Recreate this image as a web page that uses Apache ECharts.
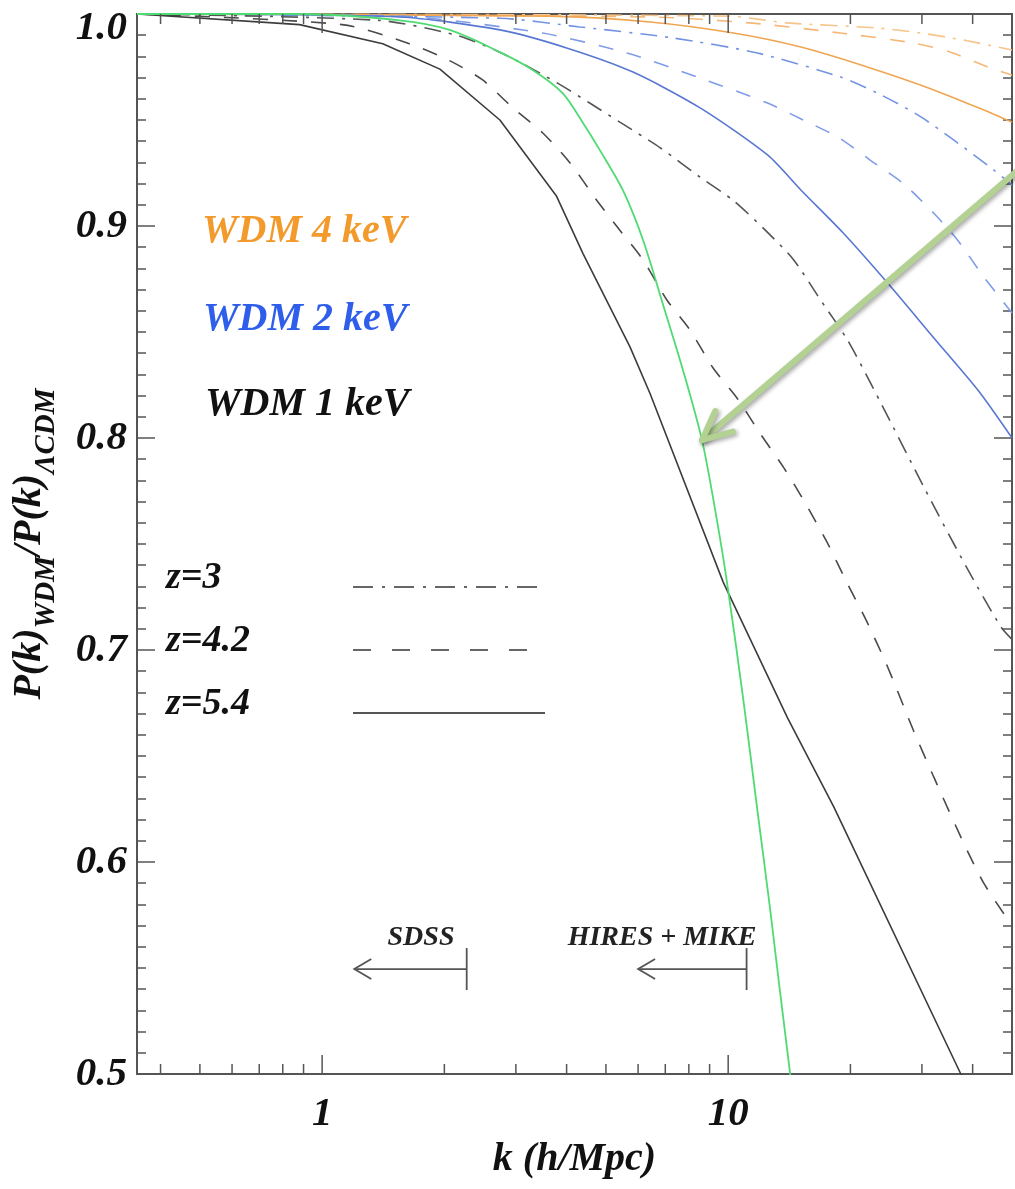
<!DOCTYPE html>
<html>
<head>
<meta charset="utf-8">
<script src="https://cdn.jsdelivr.net/npm/echarts@6/dist/echarts.min.js"></script>
<style>
html,body{margin:0;padding:0;background:#fff;}
#c{width:1015px;height:1189px;}
</style>
</head>
<body>
<div id="c"></div>
<script>
// ---- axes ----
const kMin = 0.35, kMax = 50;
const yMin = 0.5, yMax = 1.0, yStep = 0.1;
const xMajorTicks = [1, 10];
const xMinorTicks = [0.4,0.5,0.6,0.7,0.8,0.9,2,3,4,5,6,7,8,9,20,30,40];
const yTickLabels = ['0.5','0.6','0.7','0.8','0.9','1.0'];

// ---- WDM 1 keV ----
const w1z54_k = [0.35,0.88,1.41,1.95,2.74,3.78,4.39,5.73,6.42,9.72,14.0,18.2,37.4,50];
const w1z54_v = [1.0,0.995,0.986,0.974,0.950,0.914,0.887,0.843,0.821,0.732,0.668,0.626,0.500,0.447];
const w1z42_k = [0.35,1.12,1.64,2.06,2.48,2.94,3.49,4.07,4.75,5.41,6.17,7.07,8.05,9.18,10.5,12.0,13.7,15.3,17.5,19.7,22.0,24.7,28.6,32.1,38.0,42.6,50];
const w1z42_v = [1.0,0.995,0.986,0.978,0.969,0.956,0.944,0.930,0.912,0.898,0.884,0.865,0.851,0.833,0.819,0.802,0.786,0.771,0.751,0.731,0.713,0.692,0.662,0.640,0.609,0.590,0.570];
const w1z3_k = [0.35,1.38,2.14,2.74,3.30,3.91,4.56,5.41,6.79,8.53,10.3,12.5,14.5,16.9,19.7,23.7,30.3,38.9,46.9,50];
const w1z3_v = [1.0,0.997,0.990,0.982,0.974,0.966,0.958,0.949,0.937,0.923,0.912,0.897,0.884,0.865,0.846,0.817,0.777,0.738,0.711,0.705];

// ---- WDM 2 keV ----
const w2z54_k = [0.35,1.55,2.74,4.0,5.83,8.53,12.5,15.1,19.2,24.7,32.1,41.2,50];
const w2z54_v = [1.0,0.9986,0.9925,0.984,0.9726,0.9557,0.9335,0.917,0.8967,0.8731,0.8472,0.8226,0.800];
const w2z42_k = [0.35,1.55,3.49,5.63,8.38,12.5,15.3,18.6,22.4,27.0,32.1,36.7,42.6,50];
const w2z42_v = [1.0,0.999,0.991,0.9816,0.9703,0.958,0.950,0.942,0.931,0.920,0.906,0.8934,0.876,0.859];
const w2z3_k = [0.35,2.74,4.31,7.31,11.8,18.9,23.3,29.3,35.9,45.1,50];
const w2z3_v = [1.0,0.998,0.9939,0.9887,0.9816,0.9703,0.9627,0.9524,0.9406,0.9264,0.9193];

// ---- WDM 4 keV ----
const w4z54_k = [0.35,3.63,6.42,10.3,15.1,22.0,32.1,42.6,50];
const w4z54_v = [1.0,0.999,0.9962,0.991,0.9844,0.975,0.9642,0.9547,0.949];
const w4z42_k = [0.35,6.42,11.3,18.9,28.6,35.3,43.6,50];
const w4z42_v = [1.0,0.9986,0.9958,0.991,0.9863,0.982,0.975,0.9712];
const w4z3_k = [0.35,10.0,14.0,23.3,29.8,38.0,50];
const w4z3_v = [1.0,0.999,0.9958,0.9934,0.991,0.9877,0.983];

// ---- green curve ----
const green_k = [0.35,0.88,1.55,2.06,2.74,3.30,3.91,4.39,4.83,5.50,6.17,6.91,7.74,8.62,9.29,9.94,10.9,11.8,12.7,14.2,15.5];
const green_v = [1.0,1.0,0.997,0.9925,0.982,0.9736,0.9627,0.9486,0.9358,0.917,0.8934,0.863,0.832,0.799,0.766,0.7316,0.6764,0.6245,0.577,0.5005,0.45];

// ---- annotations (data coords) ----
const limitNames = ['SDSS','HIRES + MIKE'];
const limitK = [2.27, 11.1];
const limitTailK = [1.2, 6.0];
const limitY = [0.5495, 0.5495];
const arrowTip = [8.62, 0.799];
const arrowTail = [51.5, 0.926];

const pairs = (k, v) => k.map((x, i) => [x, v[i]]);
const FONT = '"Liberation Serif","DejaVu Serif",serif';
const DASH = [15, 14];
const DASHDOT = [17, 8, 3, 8];

function lineSeries(name, k, v, color, type, width, smooth) {
  return {
    name, type: 'line', xAxisIndex: 0, yAxisIndex: 0,
    data: pairs(k, v), showSymbol: false, symbol: 'none', silent: true,
    clip: true, smooth: smooth === undefined ? 0.25 : smooth,
    lineStyle: { color, width: width || 1.6, type: type || 'solid' },
    z: 3
  };
}

const AX = '#555';
const option = {
  animation: false,
  backgroundColor: '#ffffff',
  grid: { left: 137, right: 3, top: 14, bottom: 115, containLabel: false },
  xAxis: [
    {
      type: 'log', logBase: 10, min: kMin, max: kMax, position: 'bottom',
      axisLine: { show: true, onZero: false, lineStyle: { color: AX, width: 2 } },
      axisTick: { show: false }, splitLine: { show: false }, minorTick: { show: false },
      axisLabel: {
        margin: 20, color: '#111', fontFamily: FONT, fontSize: 41, fontWeight: 'bold', fontStyle: 'italic',
        formatter: function (v) {
          for (const t of xMajorTicks) { if (Math.abs(v - t) / t < 1e-6) return String(t); }
          return '';
        }
      },
      name: 'k (h/Mpc)', nameLocation: 'middle', nameGap: 66,
      nameTextStyle: { color: '#111', fontFamily: FONT, fontSize: 40, fontWeight: 'bold', fontStyle: 'italic' }
    },
    {
      type: 'log', logBase: 10, min: kMin, max: kMax, position: 'top',
      axisLine: { show: true, onZero: false, lineStyle: { color: AX, width: 2 } },
      axisTick: { show: false }, axisLabel: { show: false }, splitLine: { show: false }
    }
  ],
  yAxis: [
    {
      type: 'value', min: yMin, max: yMax, interval: yStep, position: 'left',
      axisLine: { show: true, onZero: false, lineStyle: { color: AX, width: 2 } },
      axisTick: { show: true, inside: true, length: 18, lineStyle: { color: AX, width: 1.5 } },
      minorTick: { show: true, splitNumber: 10, length: 9, lineStyle: { color: AX, width: 1.5 } },
      splitLine: { show: false }, minorSplitLine: { show: false },
      axisLabel: {
        margin: 10, color: '#111', fontFamily: FONT, fontSize: 41, fontWeight: 'bold', fontStyle: 'italic',
        formatter: function (v) {
          const i = Math.round((v - yMin) / yStep);
          const s = yTickLabels[i];
          return i === yTickLabels.length - 1 ? '{t|' + s + '}' : s;
        },
        rich: { t: { fontFamily: FONT, fontSize: 41, fontWeight: 'bold', fontStyle: 'italic', color: '#111', padding: [28, 0, 0, 0] } }
      }
    },
    {
      type: 'value', min: yMin, max: yMax, interval: yStep, position: 'right',
      axisLine: { show: true, onZero: false, lineStyle: { color: AX, width: 2 } },
      axisTick: { show: true, inside: true, length: 18, lineStyle: { color: AX, width: 1.5 } },
      minorTick: { show: true, splitNumber: 10, length: 9, lineStyle: { color: AX, width: 1.5 } },
      splitLine: { show: false }, axisLabel: { show: false }
    }
  ],
  series: [
    lineSeries('4keV z3', w4z3_k, w4z3_v, '#F7C48A', DASHDOT),
    lineSeries('4keV z4.2', w4z42_k, w4z42_v, '#F5B877', DASH),
    lineSeries('4keV z5.4', w4z54_k, w4z54_v, '#EFA552', 'solid'),
    lineSeries('2keV z3', w2z3_k, w2z3_v, '#7393E2', DASHDOT),
    lineSeries('2keV z4.2', w2z42_k, w2z42_v, '#7F9DE6', DASH),
    lineSeries('2keV z5.4', w2z54_k, w2z54_v, '#5877D2', 'solid'),
    lineSeries('1keV z3', w1z3_k, w1z3_v, '#555555', DASHDOT),
    lineSeries('1keV z4.2', w1z42_k, w1z42_v, '#4a4a4a', DASH),
    lineSeries('1keV z5.4', w1z54_k, w1z54_v, '#3c3c3c', 'solid', 1.6, false),
    lineSeries('green', green_k, green_v, '#4EDB72', 'solid', 1.8, 0.3),
    {
      // minor + major ticks on bottom and top log axes
      type: 'custom', xAxisIndex: 0, yAxisIndex: 0, silent: true, clip: false, z: 5,
      data: xMajorTicks.map(k => [k, 1]).concat(xMinorTicks.map(k => [k, 0])),
      renderItem: function (params, api) {
        const k = api.value(0), major = api.value(1) === 1;
        const len = major ? 19 : 10;
        const pb = api.coord([k, yMin]), pt = api.coord([k, yMax]);
        const st = { stroke: AX, lineWidth: 1.5 };
        return { type: 'group', children: [
          { type: 'line', shape: { x1: pb[0], y1: pb[1], x2: pb[0], y2: pb[1] - len }, style: st },
          { type: 'line', shape: { x1: pt[0], y1: pt[1], x2: pt[0], y2: pt[1] + len }, style: st }
        ]};
      }
    },
    {
      // SDSS / HIRES limits arrows
      type: 'custom', xAxisIndex: 0, yAxisIndex: 0, silent: true, clip: false, z: 6,
      encode: { x: [0, 1], y: 2 },
      data: limitK.map((k, i) => [limitTailK[i], k, limitY[i]]),
      renderItem: function (params, api) {
        const a = api.coord([api.value(0), api.value(2)]);
        const b = api.coord([api.value(1), api.value(2)]);
        const st = { stroke: '#555', lineWidth: 1.8, fill: 'none' };
        return { type: 'group', children: [
          { type: 'line', shape: { x1: a[0], y1: a[1], x2: b[0], y2: b[1] }, style: st },
          { type: 'line', shape: { x1: b[0], y1: b[1] - 21, x2: b[0], y2: b[1] + 21 }, style: st },
          { type: 'polyline', shape: { points: [[a[0] + 17, a[1] - 10], [a[0], a[1]], [a[0] + 17, a[1] + 10]] }, style: st }
        ]};
      }
    },
    {
      // green pointer arrow
      type: 'custom', xAxisIndex: 0, yAxisIndex: 0, silent: true, clip: false, z: 7,
      encode: { x: [0, 2], y: [1, 3] },
      data: [[arrowTip[0], arrowTip[1], arrowTail[0], arrowTail[1]]],
      renderItem: function (params, api) {
        const tip = api.coord([api.value(0), api.value(1)]);
        const tail = api.coord([api.value(2), api.value(3)]);
        const dx = tail[0] - tip[0], dy = tail[1] - tip[1];
        const L = Math.hypot(dx, dy), ux = dx / L, uy = dy / L;
        const th = 25 * Math.PI / 180, al = 32;
        const r = (s) => [tip[0] + al * (ux * Math.cos(s * th) - uy * Math.sin(s * th)),
                          tip[1] + al * (ux * Math.sin(s * th) + uy * Math.cos(s * th))];
        const st = { stroke: '#B3D193', lineWidth: 6, lineCap: 'round', lineJoin: 'round', fill: 'none',
                     shadowBlur: 4, shadowColor: 'rgba(0,0,0,0.35)', shadowOffsetX: 2, shadowOffsetY: 2 };
        return { type: 'group', children: [
          { type: 'line', shape: { x1: tail[0], y1: tail[1], x2: tip[0], y2: tip[1] }, style: st },
          { type: 'polyline', shape: { points: [r(1), tip, r(-1)] }, style: st }
        ]};
      }
    }
  ],
  graphic: [
    { type: 'text', x: 32, y: 544, rotation: Math.PI / 2, silent: true,
      style: { text: '{m|P(k)}{s|WDM}{m|/P(k)}{s|ΛCDM}', align: 'center', verticalAlign: 'middle', fill: '#111',
        rich: {
          m: { fontFamily: FONT, fontSize: 40, fontWeight: 'bold', fontStyle: 'italic', fill: '#111', lineHeight: 44, verticalAlign: 'top' },
          s: { fontFamily: FONT, fontSize: 29, fontWeight: 'bold', fontStyle: 'italic', fill: '#111', lineHeight: 30, padding: [22, 0, 0, 0], verticalAlign: 'top' }
        } } },
    { type: 'text', x: 202, y: 232, silent: true, style: { text: 'WDM 4 keV', fill: '#F39A2C', font: 'italic bold 40px ' + FONT, verticalAlign: 'middle' } },
    { type: 'text', x: 203, y: 320, silent: true, style: { text: 'WDM 2 keV', fill: '#2F5FEA', font: 'italic bold 40px ' + FONT, verticalAlign: 'middle' } },
    { type: 'text', x: 205, y: 405, silent: true, style: { text: 'WDM 1 keV', fill: '#111111', font: 'italic bold 40px ' + FONT, verticalAlign: 'middle' } },
    { type: 'text', x: 166, y: 578, silent: true, style: { text: 'z=3', fill: '#111', font: 'italic bold 38px ' + FONT, verticalAlign: 'middle' } },
    { type: 'text', x: 166, y: 641, silent: true, style: { text: 'z=4.2', fill: '#111', font: 'italic bold 38px ' + FONT, verticalAlign: 'middle' } },
    { type: 'text', x: 166, y: 704, silent: true, style: { text: 'z=5.4', fill: '#111', font: 'italic bold 38px ' + FONT, verticalAlign: 'middle' } },
    { type: 'line', silent: true, shape: { x1: 353, y1: 587, x2: 545, y2: 587 }, style: { stroke: '#666', lineWidth: 2, lineDash: [20, 9, 3, 9] } },
    { type: 'line', silent: true, shape: { x1: 353, y1: 650, x2: 530, y2: 650 }, style: { stroke: '#666', lineWidth: 2, lineDash: [18, 21] } },
    { type: 'line', silent: true, shape: { x1: 353, y1: 713, x2: 545, y2: 713 }, style: { stroke: '#555', lineWidth: 2 } },
    { type: 'text', x: 421, y: 938, silent: true, style: { text: limitNames[0], fill: '#222', font: 'italic bold 28px ' + FONT, align: 'center', verticalAlign: 'middle' } },
    { type: 'text', x: 662, y: 938, silent: true, style: { text: limitNames[1], fill: '#222', font: 'italic bold 28px ' + FONT, align: 'center', verticalAlign: 'middle' } }
  ]
};

const chart = echarts.init(document.getElementById('c'), null, { renderer: 'canvas' });
chart.setOption(option);
</script>
</body>
</html>
